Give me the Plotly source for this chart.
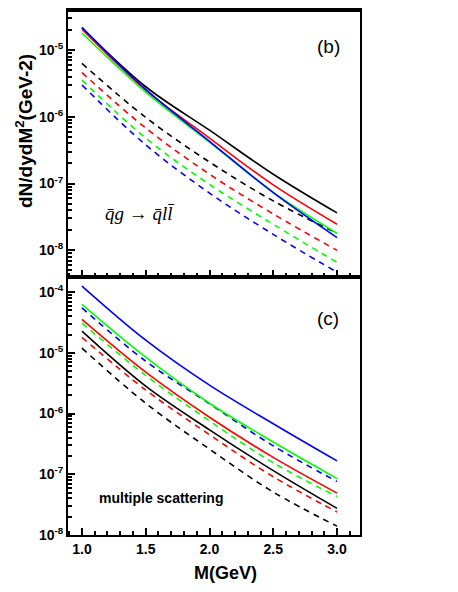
import plotly.graph_objects as go

# page is shown with an 8px body margin, so the figure is shrunk and page
# coordinates are shifted by OFF when converted to paper coordinates
OFF = 8
W, H = 458 - OFF, 592 - OFF

M = [1.0, 1.5, 2.0, 2.5, 3.0]

# panel (b): qbar g -> qbar l lbar
b_solid_black = [2.15e-5, 2.82e-6, 6.3e-7, 1.38e-7, 3.63e-8]
b_solid_red = [2.05e-5, 2.51e-6, 4.79e-7, 9.55e-8, 2.46e-8]
b_solid_green = [1.8e-5, 2.34e-6, 4.17e-7, 7.4e-8, 1.8e-8]
b_solid_blue = [2.2e-5, 2.57e-6, 4.3e-7, 7.3e-8, 1.55e-8]
b_dash_black = [6.3e-6, 9.8e-7, 2.1e-7, 5.5e-8, 1.8e-8]
b_dash_red = [4.6e-6, 6.8e-7, 1.38e-7, 3.5e-8, 1.0e-8]
b_dash_green = [3.55e-6, 4.8e-7, 9.7e-8, 2.45e-8, 6.6e-9]
b_dash_blue = [3.0e-6, 3.8e-7, 7.2e-8, 1.73e-8, 4.7e-9]

# panel (c): multiple scattering
c_solid_blue = [1.26e-4, 1.62e-5, 2.94e-6, 6.8e-7, 1.66e-7]
c_solid_green = [6.3e-5, 8.5e-6, 1.48e-6, 3.4e-7, 8.5e-8]
c_solid_red = [3.55e-5, 4.8e-6, 8.7e-7, 1.9e-7, 4.9e-8]
c_solid_black = [2.28e-5, 2.83e-6, 5.4e-7, 1.15e-7, 2.75e-8]
c_dash_blue = [5.5e-5, 7.3e-6, 1.45e-6, 2.94e-7, 7.6e-8]
c_dash_green = [3.1e-5, 4.26e-6, 7.6e-7, 1.55e-7, 4.3e-8]
c_dash_red = [1.8e-5, 2.45e-6, 4.5e-7, 9.1e-8, 2.4e-8]
c_dash_black = [1.2e-5, 1.48e-6, 2.6e-7, 5.1e-8, 1.4e-8]

x_tickvals = [1.0, 1.5, 2.0, 2.5, 3.0]
x_ticktext = ["1.0", "1.5", "2.0", "2.5", "3.0"]
b_exps = [-8, -7, -6, -5]
c_exps = [-8, -7, -6, -5, -4]

COL = {"black": "#000000", "red": "#ff0000", "green": "#00ff00", "blue": "#0000ff"}

def px_x(p):
    return (p - OFF) / W

def px_y(p):
    return 1 - (p - OFF) / H

fig = go.Figure()

def add(x, y, color, dash, xa, ya):
    fig.add_trace(go.Scatter(
        x=x, y=y, mode="lines", xaxis=xa, yaxis=ya, showlegend=False,
        line=dict(color=COL[color], width=1.6, dash=dash, shape="spline", smoothing=1.0)))

DASH = "6px,5px"
for col, d in [("black", b_dash_black), ("red", b_dash_red),
               ("green", b_dash_green), ("blue", b_dash_blue)]:
    add(M, d, col, DASH, "x", "y")
for col, s in [("black", b_solid_black), ("red", b_solid_red), ("green", b_solid_green), ("blue", b_solid_blue)]:
    add(M, s, col, "solid", "x", "y")

for col, d in [("black", c_dash_black), ("red", c_dash_red), ("green", c_dash_green), ("blue", c_dash_blue)]:
    add(M, d, col, DASH, "x2", "y2")
for col, s in [("black", c_solid_black), ("red", c_solid_red), ("green", c_solid_green), ("blue", c_solid_blue)]:
    add(M, s, col, "solid", "x2", "y2")

# invisible trace for top stub panel (a)
fig.add_trace(go.Scatter(x=[2.0], y=[1e-8], mode="lines", xaxis="x3", yaxis="y3",
                         showlegend=False, line=dict(color="rgba(0,0,0,0)")))

FONT = "Liberation Sans, Arial, sans-serif"
tickfont = dict(family=FONT, size=14, color="black", weight="bold")

x_minor = [round(1.0 + 0.1 * i, 1) for i in range(-1, 22)]
x_minor = [v for v in x_minor if v not in x_tickvals]

def minor_log(lo, hi):
    return [k * 10.0 ** e for e in range(lo, hi) for k in range(2, 10)]

xdom = [px_x(68), px_x(360)]
xrange_ = [0.8906, 3.18]

def xaxis_cfg(labels, anchor, mirror=True):
    return dict(domain=xdom, range=xrange_, anchor=anchor, showgrid=False, zeroline=False,
                automargin=False,
                showline=True, linecolor="black", linewidth=2, mirror=mirror,
                ticks="inside", ticklen=7, tickwidth=1.5, tickcolor="black",
                tickvals=x_tickvals, ticktext=x_ticktext, showticklabels=labels,
                tickfont=tickfont,
                minor=dict(ticks="inside", ticklen=4, tickwidth=1.5, tickcolor="black",
                           tickvals=x_minor, showgrid=False))

def yaxis_cfg(dom, rng, exps, anchor, lo, hi, mirror=True):
    return dict(domain=dom, range=rng, type="log", anchor=anchor, showgrid=False, zeroline=False,
                automargin=False,
                showline=True, linecolor="black", linewidth=2, mirror=mirror,
                ticks="inside", ticklen=7, tickwidth=1.5, tickcolor="black",
                tickvals=[10.0 ** e for e in exps],
                ticktext=["10<sup>%d</sup>" % e for e in exps],
                tickfont=tickfont,
                minor=dict(ticks="inside", ticklen=4, tickwidth=1.5, tickcolor="black",
                           tickvals=minor_log(lo, hi), showgrid=False))

fig.update_layout(
    width=W, height=H, margin=dict(l=0, r=0, t=0, b=0, autoexpand=False),
    paper_bgcolor="white", plot_bgcolor="white",
    xaxis=xaxis_cfg(False, "y"),
    yaxis=yaxis_cfg([px_y(277), px_y(10)], [-8.4, -4.4], b_exps, "x", -9, -4),
    xaxis2=xaxis_cfg(True, "y2"),
    yaxis2=yaxis_cfg([px_y(535), px_y(277)], [-8.0, -3.75], c_exps, "x2", -8, -3),
    xaxis3=xaxis_cfg(False, "y3", mirror=False),
    yaxis3=yaxis_cfg([px_y(10), 1.0], [-8.0, -7.95], [-8], "x3", -8, -7, mirror=False),
)

ann = [
    dict(text="dN/dydM<sup>2</sup>(GeV-2)", x=px_x(24), y=px_y(131), textangle=-90,
         font=dict(family=FONT, size=19, color="black", weight="bold")),
    dict(text="M(GeV)", x=px_x(225), y=px_y(573),
         font=dict(family=FONT, size=18, color="black", weight="bold")),
    dict(text="(b)", x=px_x(328), y=px_y(47),
         font=dict(family=FONT, size=19, color="black")),
    dict(text="(c)", x=px_x(328), y=px_y(318),
         font=dict(family=FONT, size=19, color="black")),
    dict(text="<i>q\u0304g</i> \u2192 <i>q\u0304l</i><i>l\u0304</i>", x=px_x(139), y=px_y(213),
         font=dict(family="Liberation Serif, Times New Roman, serif", size=19, color="black")),
    dict(text="multiple scattering", x=px_x(161), y=px_y(498),
         font=dict(family=FONT, size=14, color="black", weight="bold")),
]
for a in ann:
    a.update(xref="paper", yref="paper", showarrow=False, xanchor="center", yanchor="middle")
fig.update_layout(annotations=ann)

fig.write_html("out.html")
